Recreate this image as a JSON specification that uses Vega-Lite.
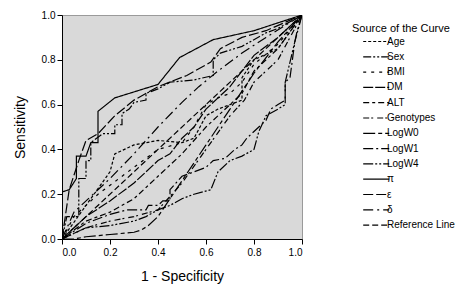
{
  "$schema": "https://vega.github.io/schema/vega-lite/v6.json",
  "autosize": "none",
  "width": 240,
  "height": 224,
  "padding": {"left": 62, "top": 15, "right": 169, "bottom": 50},
  "background": "white",
  "config": {
    "font": "Liberation Sans",
    "view": {"fill": "#d9d9d9", "stroke": "#9a9a9a", "strokeWidth": 1},
    "axis": {"grid": false, "domainColor": "black", "tickColor": "black", "labelColor": "black", "titleColor": "black", "labelFontSize": 10, "titleFontSize": 14, "titleFontWeight": "normal", "tickSize": 5}
  },
  "data": {"values": [
    {"s":"π","x":0,"y":0},{"s":"π","x":0,"y":0.21},{"s":"π","x":0.03,"y":0.22},{"s":"π","x":0.06,"y":0.27},{"s":"π","x":0.06,"y":0.37},{"s":"π","x":0.1,"y":0.37},{"s":"π","x":0.12,"y":0.43},{"s":"π","x":0.15,"y":0.43},{"s":"π","x":0.15,"y":0.57},{"s":"π","x":0.22,"y":0.63},{"s":"π","x":0.4,"y":0.69},{"s":"π","x":0.49,"y":0.81},{"s":"π","x":0.63,"y":0.89},{"s":"π","x":0.8,"y":0.93},{"s":"π","x":1,"y":1},
    {"s":"Sex","x":0,"y":0},{"s":"Sex","x":0.02,"y":0.1},{"s":"Sex","x":0.07,"y":0.1},{"s":"Sex","x":0.07,"y":0.27},{"s":"Sex","x":0.1,"y":0.27},{"s":"Sex","x":0.1,"y":0.35},{"s":"Sex","x":0.12,"y":0.35},{"s":"Sex","x":0.12,"y":0.43},{"s":"Sex","x":0.17,"y":0.47},{"s":"Sex","x":0.22,"y":0.47},{"s":"Sex","x":0.22,"y":0.51},{"s":"Sex","x":0.25,"y":0.51},{"s":"Sex","x":0.25,"y":0.56},{"s":"Sex","x":0.28,"y":0.58},{"s":"Sex","x":0.3,"y":0.61},{"s":"Sex","x":0.35,"y":0.62},{"s":"Sex","x":0.35,"y":0.65},{"s":"Sex","x":0.4,"y":0.67},{"s":"Sex","x":0.45,"y":0.7},{"s":"Sex","x":0.55,"y":0.71},{"s":"Sex","x":0.63,"y":0.73},{"s":"Sex","x":0.63,"y":0.8},{"s":"Sex","x":0.66,"y":0.83},{"s":"Sex","x":0.75,"y":0.86},{"s":"Sex","x":0.85,"y":0.92},{"s":"Sex","x":0.9,"y":0.94},{"s":"Sex","x":1,"y":1},
    {"s":"ε","x":0,"y":0},{"s":"ε","x":0.03,"y":0.22},{"s":"ε","x":0.07,"y":0.35},{"s":"ε","x":0.1,"y":0.44},{"s":"ε","x":0.15,"y":0.47},{"s":"ε","x":0.22,"y":0.55},{"s":"ε","x":0.3,"y":0.62},{"s":"ε","x":0.4,"y":0.68},{"s":"ε","x":0.52,"y":0.73},{"s":"ε","x":0.62,"y":0.79},{"s":"ε","x":0.66,"y":0.85},{"s":"ε","x":0.75,"y":0.9},{"s":"ε","x":0.85,"y":0.93},{"s":"ε","x":1,"y":1},
    {"s":"δ","x":0,"y":0},{"s":"δ","x":0.05,"y":0.12},{"s":"δ","x":0.2,"y":0.27},{"s":"δ","x":0.3,"y":0.38},{"s":"δ","x":0.4,"y":0.5},{"s":"δ","x":0.5,"y":0.61},{"s":"δ","x":0.57,"y":0.68},{"s":"δ","x":0.65,"y":0.75},{"s":"δ","x":0.75,"y":0.83},{"s":"δ","x":0.85,"y":0.9},{"s":"δ","x":1,"y":1},
    {"s":"Age","x":0,"y":0},{"s":"Age","x":0.1,"y":0.15},{"s":"Age","x":0.2,"y":0.3},{"s":"Age","x":0.22,"y":0.38},{"s":"Age","x":0.3,"y":0.42},{"s":"Age","x":0.4,"y":0.44},{"s":"Age","x":0.5,"y":0.43},{"s":"Age","x":0.55,"y":0.45},{"s":"Age","x":0.6,"y":0.55},{"s":"Age","x":0.65,"y":0.58},{"s":"Age","x":0.7,"y":0.6},{"s":"Age","x":0.75,"y":0.62},{"s":"Age","x":0.75,"y":0.72},{"s":"Age","x":0.8,"y":0.8},{"s":"Age","x":0.9,"y":0.85},{"s":"Age","x":1,"y":1},
    {"s":"BMI","x":0,"y":0},{"s":"BMI","x":0.05,"y":0.1},{"s":"BMI","x":0.15,"y":0.2},{"s":"BMI","x":0.3,"y":0.32},{"s":"BMI","x":0.4,"y":0.4},{"s":"BMI","x":0.5,"y":0.43},{"s":"BMI","x":0.55,"y":0.5},{"s":"BMI","x":0.6,"y":0.6},{"s":"BMI","x":0.65,"y":0.63},{"s":"BMI","x":0.7,"y":0.65},{"s":"BMI","x":0.75,"y":0.7},{"s":"BMI","x":0.8,"y":0.78},{"s":"BMI","x":0.9,"y":0.87},{"s":"BMI","x":1,"y":1},
    {"s":"DM","x":0,"y":0},{"s":"DM","x":0.1,"y":0.1},{"s":"DM","x":0.2,"y":0.17},{"s":"DM","x":0.3,"y":0.25},{"s":"DM","x":0.4,"y":0.35},{"s":"DM","x":0.45,"y":0.38},{"s":"DM","x":0.5,"y":0.45},{"s":"DM","x":0.55,"y":0.5},{"s":"DM","x":0.6,"y":0.58},{"s":"DM","x":0.7,"y":0.68},{"s":"DM","x":0.8,"y":0.82},{"s":"DM","x":0.9,"y":0.9},{"s":"DM","x":1,"y":1},
    {"s":"ALT","x":0,"y":0},{"s":"ALT","x":0.1,"y":0.08},{"s":"ALT","x":0.2,"y":0.12},{"s":"ALT","x":0.3,"y":0.18},{"s":"ALT","x":0.4,"y":0.28},{"s":"ALT","x":0.5,"y":0.38},{"s":"ALT","x":0.6,"y":0.5},{"s":"ALT","x":0.7,"y":0.6},{"s":"ALT","x":0.75,"y":0.65},{"s":"ALT","x":0.8,"y":0.75},{"s":"ALT","x":0.9,"y":0.85},{"s":"ALT","x":1,"y":1},
    {"s":"Genotypes","x":0,"y":0},{"s":"Genotypes","x":0.1,"y":0.05},{"s":"Genotypes","x":0.2,"y":0.08},{"s":"Genotypes","x":0.3,"y":0.1},{"s":"Genotypes","x":0.4,"y":0.13},{"s":"Genotypes","x":0.5,"y":0.25},{"s":"Genotypes","x":0.6,"y":0.4},{"s":"Genotypes","x":0.7,"y":0.55},{"s":"Genotypes","x":0.76,"y":0.62},{"s":"Genotypes","x":0.8,"y":0.7},{"s":"Genotypes","x":0.9,"y":0.8},{"s":"Genotypes","x":1,"y":1},
    {"s":"LogW0","x":0,"y":0},{"s":"LogW0","x":0.05,"y":0},{"s":"LogW0","x":0.1,"y":0.01},{"s":"LogW0","x":0.2,"y":0.02},{"s":"LogW0","x":0.3,"y":0.03},{"s":"LogW0","x":0.33,"y":0.04},{"s":"LogW0","x":0.36,"y":0.06},{"s":"LogW0","x":0.4,"y":0.1},{"s":"LogW0","x":0.45,"y":0.18},{"s":"LogW0","x":0.5,"y":0.26},{"s":"LogW0","x":0.6,"y":0.42},{"s":"LogW0","x":0.7,"y":0.58},{"s":"LogW0","x":0.8,"y":0.74},{"s":"LogW0","x":0.9,"y":0.88},{"s":"LogW0","x":1,"y":1},
    {"s":"LogW1","x":0,"y":0},{"s":"LogW1","x":0.1,"y":0.07},{"s":"LogW1","x":0.2,"y":0.11},{"s":"LogW1","x":0.27,"y":0.13},{"s":"LogW1","x":0.35,"y":0.13},{"s":"LogW1","x":0.36,"y":0.15},{"s":"LogW1","x":0.4,"y":0.15},{"s":"LogW1","x":0.42,"y":0.17},{"s":"LogW1","x":0.45,"y":0.17},{"s":"LogW1","x":0.45,"y":0.22},{"s":"LogW1","x":0.5,"y":0.28},{"s":"LogW1","x":0.55,"y":0.3},{"s":"LogW1","x":0.6,"y":0.32},{"s":"LogW1","x":0.63,"y":0.35},{"s":"LogW1","x":0.68,"y":0.36},{"s":"LogW1","x":0.72,"y":0.4},{"s":"LogW1","x":0.75,"y":0.42},{"s":"LogW1","x":0.77,"y":0.45},{"s":"LogW1","x":0.8,"y":0.48},{"s":"LogW1","x":0.85,"y":0.53},{"s":"LogW1","x":0.87,"y":0.58},{"s":"LogW1","x":0.9,"y":0.6},{"s":"LogW1","x":0.93,"y":0.62},{"s":"LogW1","x":0.93,"y":0.7},{"s":"LogW1","x":0.95,"y":0.72},{"s":"LogW1","x":0.97,"y":0.88},{"s":"LogW1","x":0.98,"y":0.93},{"s":"LogW1","x":1,"y":1},
    {"s":"LogW4","x":0,"y":0},{"s":"LogW4","x":0.1,"y":0.05},{"s":"LogW4","x":0.2,"y":0.06},{"s":"LogW4","x":0.3,"y":0.08},{"s":"LogW4","x":0.35,"y":0.1},{"s":"LogW4","x":0.4,"y":0.13},{"s":"LogW4","x":0.45,"y":0.15},{"s":"LogW4","x":0.5,"y":0.18},{"s":"LogW4","x":0.55,"y":0.2},{"s":"LogW4","x":0.62,"y":0.22},{"s":"LogW4","x":0.65,"y":0.3},{"s":"LogW4","x":0.7,"y":0.35},{"s":"LogW4","x":0.75,"y":0.37},{"s":"LogW4","x":0.8,"y":0.4},{"s":"LogW4","x":0.82,"y":0.48},{"s":"LogW4","x":0.85,"y":0.55},{"s":"LogW4","x":0.9,"y":0.58},{"s":"LogW4","x":0.93,"y":0.6},{"s":"LogW4","x":0.93,"y":0.7},{"s":"LogW4","x":0.97,"y":0.88},{"s":"LogW4","x":1,"y":1},
    {"s":"Reference Line","x":0,"y":0},{"s":"Reference Line","x":1,"y":1}
  ]},
  "mark": {"type": "line", "color": "black", "strokeWidth": 1.2, "clip": true},
  "encoding": {
    "x": {"field": "x", "type": "quantitative", "scale": {"domain": [0, 1], "nice": false}, "axis": {"title": "1 - Specificity", "format": ".1f", "values": [0, 0.2, 0.4, 0.6, 0.8, 1], "titlePadding": 12, "labelPadding": 3}},
    "y": {"field": "y", "type": "quantitative", "scale": {"domain": [0, 1], "nice": false}, "axis": {"title": "Sensitivity", "format": ".1f", "values": [0, 0.2, 0.4, 0.6, 0.8, 1], "titlePadding": 14, "labelPadding": 2}},
    "order": {"value": null},
    "strokeDash": {
      "field": "s", "type": "nominal",
      "scale": {
        "domain": ["Age", "Sex", "BMI", "DM", "ALT", "Genotypes", "LogW0", "LogW1", "LogW4", "π", "ε", "δ", "Reference Line"],
        "range": [[3, 2], [8, 2, 2, 2, 2, 2], [3, 5], [10, 2], [6, 3, 3, 3], [6, 2, 2, 4], [12, 3, 4, 3], [10, 3, 2, 3], [10, 2, 2, 2, 2, 2], [1, 0], [10, 3], [10, 4, 2, 4], [6, 3]]
      },
      "legend": {
        "title": "Source of the Curve",
        "orient": "none",
        "legendX": 290,
        "legendY": 8,
        "padding": 0,
        "titleFontSize": 11,
        "titleFontWeight": "normal",
        "titleColor": "black",
        "titlePadding": 0,
        "labelFontSize": 10,
        "labelColor": "black",
        "labelOffset": 15,
        "symbolType": "M-0.2,0H3.8",
        "symbolSize": 169,
        "symbolStrokeWidth": 1.2,
        "symbolStrokeColor": "black",
        "symbolOffset": 5,
        "rowPadding": 2.3,
        "labelLimit": 200
      }
    }
  }
}
